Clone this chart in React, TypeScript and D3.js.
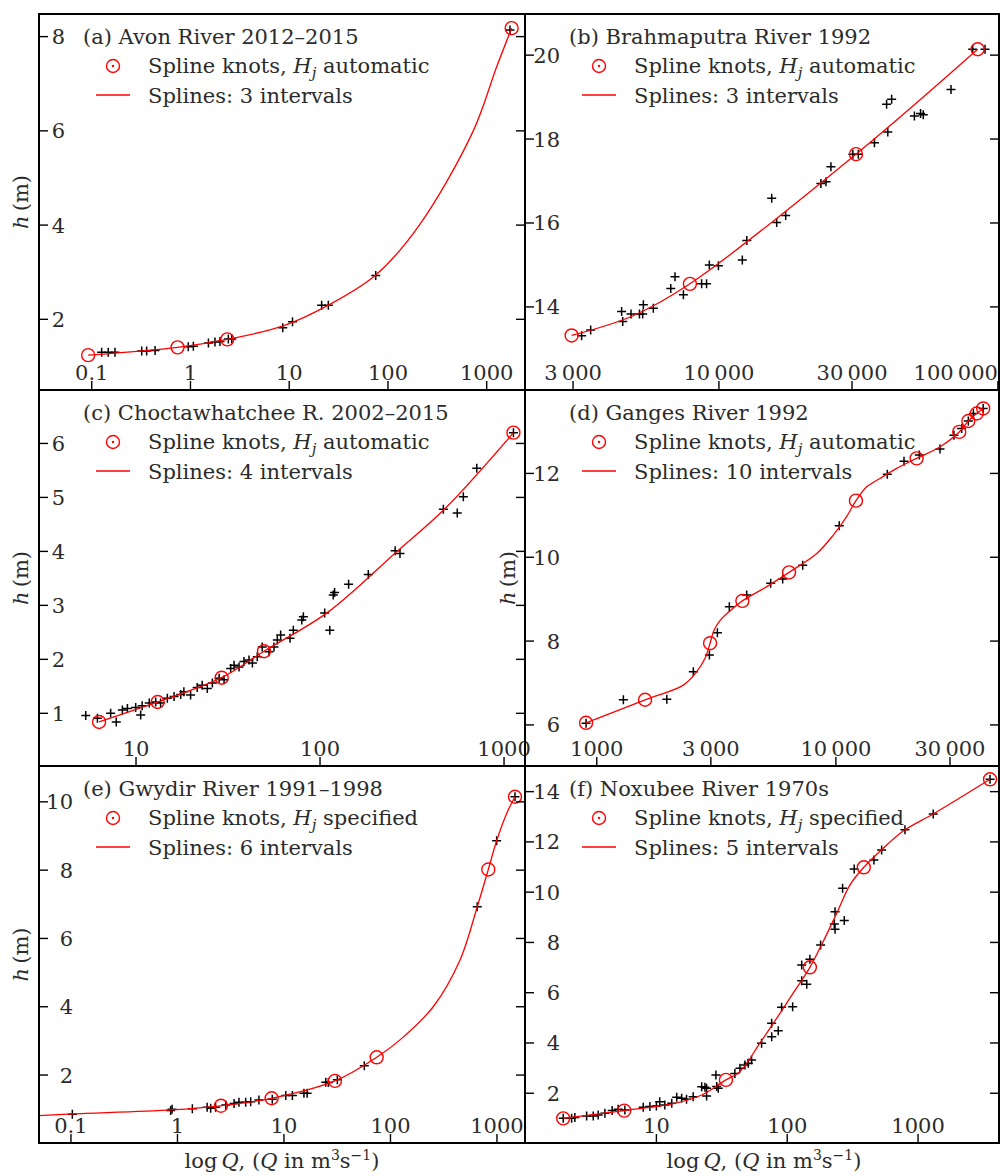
import React from "react";
import * as d3 from "d3";

// (a) Avon River 2012–2015
const avonQ = [0.126, 0.147, 0.172, 0.321, 0.36, 0.438, 0.95, 1.07, 1.52, 1.77, 1.99, 2.42, 2.62, 8.6, 10.8, 21.3, 24.9, 75.2, 1722];
const avonH = [1.3, 1.3, 1.3, 1.33, 1.33, 1.34, 1.42, 1.43, 1.5, 1.52, 1.53, 1.58, 1.58, 1.82, 1.95, 2.3, 2.3, 2.93, 8.14];
const avonKnotQ = [0.092, 0.74, 2.36, 1790];
const avonKnotH = [1.24, 1.405, 1.575, 8.18];
const avonFitQ = [0.092, 0.74, 2.36, 8.7, 24.9, 75.2, 208, 731, 1262, 1790];
const avonFitH = [1.24, 1.405, 1.575, 1.86, 2.3, 2.94, 4.0, 6.0, 7.36, 8.18];

// (b) Brahmaputra River 1992
const brahmaQ = [3220, 3470, 4480, 4520, 4840, 5190, 5360, 5330, 5820, 6720, 6960, 7460, 8670, 9030, 9240, 9960, 12130, 12590, 15460, 16110, 17350, 23200, 24200, 25200, 30200, 31600, 36100, 39900, 41600, 40300, 50200, 52800, 54000, 67900, 81200, 89900];
const brahmaH = [13.31, 13.45, 13.89, 13.65, 13.83, 13.83, 14.05, 13.83, 13.97, 14.44, 14.72, 14.29, 14.55, 14.55, 15.0, 14.98, 15.12, 15.58, 16.59, 16.01, 16.18, 16.94, 16.98, 17.34, 17.64, 17.64, 17.91, 18.83, 18.95, 18.17, 18.55, 18.61, 18.58, 19.18, 20.14, 20.14];
const brahmaKnotQ = [2965, 7870, 31000, 84600];
const brahmaKnotH = [13.32, 14.55, 17.64, 20.14];
const brahmaFitQ = [2965, 4930, 7870, 31000, 84600];
const brahmaFitH = [13.32, 13.79, 14.55, 17.64, 20.14];

// (c) Choctawhatchee R. 2002–2015
const choctQ = [5.33, 6.17, 7.28, 7.81, 8.43, 8.98, 9.96, 10.6, 10.8, 11.8, 12.8, 13.6, 14.8, 16.1, 17.5, 18.2, 19.8, 21.5, 22.9, 24.4, 26.0, 28.3, 30.1, 32.7, 34.1, 36.3, 38.6, 41.1, 42.9, 45.6, 48.5, 52.8, 56.2, 58.6, 61.1, 68.7, 71.6, 79.6, 81.2, 106, 113, 118, 120, 143, 183, 256, 272, 468, 557, 601, 711, 1125];
const choctH = [0.96, 0.91, 1.0, 0.84, 1.06, 1.09, 1.11, 0.97, 1.14, 1.19, 1.21, 1.19, 1.28, 1.31, 1.35, 1.4, 1.34, 1.48, 1.52, 1.46, 1.56, 1.65, 1.62, 1.83, 1.89, 1.86, 1.96, 1.99, 1.93, 2.05, 2.23, 2.14, 2.23, 2.36, 2.45, 2.39, 2.54, 2.73, 2.79, 2.86, 2.54, 3.19, 3.24, 3.39, 3.57, 4.01, 3.96, 4.78, 4.71, 5.01, 5.54, 6.2];
const choctKnotQ = [6.3, 13.1, 29.2, 49.6, 1125];
const choctKnotH = [0.84, 1.21, 1.66, 2.15, 6.2];
const choctFitQ = [6.3, 13.1, 29.2, 49.6, 110, 260, 480, 1125];
const choctFitH = [0.84, 1.21, 1.66, 2.15, 2.87, 3.99, 4.8, 6.2];

// (d) Ganges River 1992
const gangesQ = [902, 1292, 1963, 2534, 2958, 3194, 3584, 4237, 5337, 5990, 7266, 10330, 16410, 19270, 22330, 27250, 31170, 33590, 35800, 37580, 41300];
const gangesH = [6.04, 6.6, 6.61, 7.27, 7.67, 8.2, 8.82, 9.1, 9.38, 9.48, 9.81, 10.75, 11.98, 12.29, 12.44, 12.58, 12.91, 13.07, 13.25, 13.43, 13.55];
const gangesKnotQ = [902, 1592, 2977, 4064, 6370, 12130, 21760, 32800, 35800, 38800, 41300];
const gangesKnotH = [6.05, 6.6, 7.95, 8.96, 9.64, 11.35, 12.36, 12.99, 13.25, 13.43, 13.55];
const gangesFitQ = [902, 1592, 2302, 2618, 2837, 2977, 3093, 3275, 3605, 4064, 5140, 6370, 8318, 9752, 11090, 12130, 13460, 15290, 17950, 21760, 27220, 32800, 35800, 38800, 41300];
const gangesFitH = [6.05, 6.6, 6.95, 7.27, 7.59, 7.95, 8.26, 8.49, 8.72, 8.96, 9.3, 9.64, 10.09, 10.53, 10.97, 11.35, 11.68, 11.88, 12.12, 12.36, 12.63, 12.99, 13.25, 13.43, 13.55];

// (e) Gwydir River 1991–1998
const gwydirQ = [0.103, 0.863, 0.89, 1.38, 1.9, 2.05, 2.28, 2.84, 3.4, 3.78, 4.37, 4.87, 5.82, 7.77, 10.4, 12.0, 15.4, 16.5, 24.7, 26.1, 31.7, 56.8, 653, 993, 1476];
const gwydirH = [0.85, 0.96, 1.0, 1.01, 1.06, 1.03, 1.06, 1.12, 1.17, 1.2, 1.2, 1.22, 1.27, 1.29, 1.4, 1.4, 1.47, 1.47, 1.79, 1.78, 1.86, 2.27, 6.93, 8.86, 10.15];
const gwydirKnotQ = [2.56, 7.66, 30.1, 74.2, 829, 1476];
const gwydirKnotH = [1.1, 1.32, 1.83, 2.52, 8.02, 10.15];
const gwydirFitQ = [0.0501, 0.103, 0.87, 2.56, 7.66, 30.1, 74.2, 123, 252, 450, 653, 829, 993, 1233, 1476];
const gwydirFitH = [0.81, 0.86, 0.98, 1.1, 1.32, 1.83, 2.52, 3.03, 4.0, 5.37, 6.93, 8.02, 8.86, 9.66, 10.15];

// (f) Noxubee River 1970s
const noxubeeQ = [1.94, 2.25, 2.38, 2.93, 3.29, 3.59, 4.04, 4.59, 5.1, 5.74, 7.93, 8.92, 10.0, 10.6, 11.6, 13.1, 14.3, 15.6, 17.0, 19.1, 22.2, 23.5, 24.2, 24.2, 28.9, 28.5, 29.7, 39.8, 43.5, 47.5, 50.4, 53.4, 63.7, 76.1, 76, 85.4, 90.6, 110, 129, 141, 129, 149, 180, 232, 229, 273, 232, 265, 325, 460, 527, 794, 1306, 3550];
const noxubeeH = [1.0, 1.0, 1.03, 1.09, 1.09, 1.13, 1.2, 1.31, 1.36, 1.33, 1.44, 1.47, 1.49, 1.66, 1.53, 1.6, 1.84, 1.8, 1.76, 1.86, 2.26, 2.24, 1.89, 2.2, 2.27, 2.73, 2.2, 2.79, 2.99, 3.12, 3.19, 3.32, 3.99, 4.25, 4.78, 4.49, 5.42, 5.44, 6.48, 6.34, 7.1, 7.33, 7.9, 8.52, 8.73, 8.87, 9.22, 10.16, 10.92, 11.28, 11.68, 12.48, 13.11, 14.49];
const noxubeeKnotQ = [1.94, 5.68, 34.0, 149, 385, 3550];
const noxubeeKnotH = [1.0, 1.31, 2.53, 7.01, 10.99, 14.49];
const noxubeeFitQ = [1.94, 5.68, 13.8, 22.2, 34.0, 43.5, 61.8, 88, 111, 149, 188, 239, 302, 385, 542, 794, 1306, 3550];
const noxubeeFitH = [1.0, 1.31, 1.6, 1.93, 2.53, 2.86, 3.99, 5.18, 5.98, 7.01, 8.03, 9.16, 10.29, 10.99, 11.75, 12.48, 13.11, 14.49];

// tick values and labels
const TS = "\u2009";
const xTicksA = [0.1, 1, 10, 100, 1000];
const xLabelsA = ["0.1", "1", "10", "100", "1000"];
const xTicksB = [3000, 10000, 30000, 100000];
const xLabelsB = [`3${TS}000`, `10${TS}000`, `30${TS}000`, `100${TS}000`];
const xTicksC = [10, 100, 1000];
const xLabelsC = ["10", "100", "1000"];
const xTicksD = [1000, 3000, 10000, 30000];
const xLabelsD = ["1000", `3${TS}000`, `10${TS}000`, `30${TS}000`];
const xTicksE = [0.1, 1, 10, 100, 1000];
const xLabelsE = ["0.1", "1", "10", "100", "1000"];
const xTicksF = [10, 100, 1000];
const xLabelsF = ["10", "100", "1000"];
const yTicksA = [2, 4, 6, 8];
const yTicksB = [14, 16, 18, 20];
const yTicksC = [1, 2, 3, 4, 5, 6];
const yTicksD = [6, 8, 10, 12];
const yTicksE = [2, 4, 6, 8, 10];
const yTicksF = [2, 4, 6, 8, 10, 12, 14];

const RED = "#ff0000";
const INK = "#2b2b2b";
const FONT = "'DejaVu Serif', serif";
const FS = 21;

const panels = [
  { key: "a", box: [39, 14, 525, 390], xd: [0.02924, 2443], yd: [0.5, 8.48], q: avonQ, h: avonH, kq: avonKnotQ, kh: avonKnotH, fq: avonFitQ, fh: avonFitH, xt: xTicksA, xl: xLabelsA, yt: yTicksA, yr: 26, title: "(a) Avon River 2012–2015", hj: "automatic", sp: "Splines: 3 intervals", ylab: 28 },
  { key: "b", box: [525, 14, 999, 390], xd: [2018, 100900], yd: [12.02, 20.98], q: brahmaQ, h: brahmaH, kq: brahmaKnotQ, kh: brahmaKnotH, fq: brahmaFitQ, fh: brahmaFitH, xt: xTicksB, xl: xLabelsB, xa: ["middle", "middle", "middle", "end"], yt: yTicksB, yr: 35, title: "(b) Brahmaputra River 1992", hj: "automatic", sp: "Splines: 3 intervals" },
  { key: "c", box: [39, 390, 525, 766], xd: [2.97, 1300], yd: [0.024, 6.99], q: choctQ, h: choctH, kq: choctKnotQ, kh: choctKnotH, fq: choctFitQ, fh: choctFitH, xt: xTicksC, xl: xLabelsC, yt: yTicksC, yr: 26, title: "(c) Choctawhatchee R. 2002–2015", hj: "automatic", sp: "Splines: 4 intervals", ylab: 28 },
  { key: "d", box: [525, 390, 999, 766], xd: [501, 48100], yd: [5.02, 13.99], q: gangesQ, h: gangesH, kq: gangesKnotQ, kh: gangesKnotH, fq: gangesFitQ, fh: gangesFitH, xt: xTicksD, xl: xLabelsD, yt: yTicksD, yr: 35, title: "(d) Ganges River 1992", hj: "automatic", sp: "Splines: 10 intervals", ylab: 515 },
  { key: "e", box: [39, 766, 525, 1143], xd: [0.0501, 1833], yd: [0.01, 11.05], q: gwydirQ, h: gwydirH, kq: gwydirKnotQ, kh: gwydirKnotH, fq: gwydirFitQ, fh: gwydirFitH, xt: xTicksE, xl: xLabelsE, yt: yTicksE, yr: 34, title: "(e) Gwydir River 1991–1998", hj: "specified", sp: "Splines: 6 intervals", ylab: 28 },
  { key: "f", box: [525, 766, 999, 1143], xd: [0.99, 4157], yd: [0.02, 15.02], q: noxubeeQ, h: noxubeeH, kq: noxubeeKnotQ, kh: noxubeeKnotH, fq: noxubeeFitQ, fh: noxubeeFitH, xt: xTicksF, xl: xLabelsF, yt: yTicksF, yr: 35, title: "(f) Noxubee River 1970s", hj: "specified", sp: "Splines: 5 intervals" },
];

const cross = "M-4.5,0H4.5M0,-4.5V4.5";

function Panel({ p }: { p: any }) {
  const [x0, y0, x1, y1] = p.box;
  const x = d3.scaleLog().domain(p.xd).range([x0, x1]);
  const y = d3.scaleLinear().domain(p.yd).range([y1, y0]);
  const fit = d3
    .line<number>()
    .x((d) => x(d))
    .y((_, i) => y(p.fh[i]))
    .curve(d3.curveCatmullRom.alpha(0.5));
  const tl = 9;
  return (
    <g>
      <defs>
        <clipPath id={`clip-${p.key}`}>
          <rect x={x0} y={y0} width={x1 - x0} height={y1 - y0} />
        </clipPath>
      </defs>
      {/* observed gaugings */}
      <g stroke="#000" strokeWidth={1.5} fill="none">
        {p.q.map((qv: number, i: number) => (
          <path key={i} d={cross} transform={`translate(${x(qv)},${y(p.h[i])})`} />
        ))}
      </g>
      <path d={fit(p.fq) || ""} fill="none" stroke={RED} strokeWidth={1.3} clipPath={`url(#clip-${p.key})`} />
      <g stroke={RED} strokeWidth={1.4} fill="none">
        {p.kq.map((qv: number, i: number) => (
          <circle key={i} cx={x(qv)} cy={y(p.kh[i])} r={6.5} />
        ))}
      </g>
      {/* ticks */}
      <g stroke="#000" strokeWidth={1.4}>
        {p.yt.map((t: number) => (
          <g key={t}>
            <line x1={x0} x2={x0 + tl} y1={y(t)} y2={y(t)} />
            <line x1={x1} x2={x1 - tl} y1={y(t)} y2={y(t)} />
          </g>
        ))}
        {p.xt.map((t: number) => (
          <line key={t} x1={x(t)} x2={x(t)} y1={y1} y2={y1 - tl} />
        ))}
      </g>
      <g fontFamily={FONT} fontSize={FS} fill={INK}>
        {p.yt.map((t: number) => (
          <text key={t} x={x0 + p.yr} y={y(t) + 7.5} textAnchor="end">
            {t}
          </text>
        ))}
        {p.xt.map((t: number, i: number) => (
          <text key={t} x={x(t)} y={y1 - 10} textAnchor={p.xa ? p.xa[i] : "middle"}>
            {p.xl[i]}
          </text>
        ))}
        {/* legend */}
        <text x={x0 + 44} y={y0 + 30}>{p.title}</text>
        <circle cx={x0 + 74} cy={y0 + 52} r={6.5} fill="none" stroke={RED} strokeWidth={1.4} />
        <circle cx={x0 + 74} cy={y0 + 52} r={1.2} fill={RED} />
        <text x={x0 + 109} y={y0 + 59}>
          Spline knots, <tspan fontStyle="italic">H</tspan>
          <tspan fontStyle="italic" fontSize={15} dy={5}>j</tspan>
          <tspan dy={-5}> {p.hj}</tspan>
        </text>
        <line x1={x0 + 57} x2={x0 + 91} y1={y0 + 81} y2={y0 + 81} stroke={RED} strokeWidth={1.3} />
        <text x={x0 + 109} y={y0 + 89}>{p.sp}</text>
        {p.ylab !== undefined && (
          <text transform={`translate(${p.ylab},${(y0 + y1) / 2}) rotate(-90)`} textAnchor="middle">
            <tspan fontStyle="italic">h</tspan>{"\u2009(m)"}
          </text>
        )}
      </g>
      <rect x={x0} y={y0} width={x1 - x0} height={y1 - y0} fill="none" stroke="#000" strokeWidth={2} />
    </g>
  );
}

function XTitle({ cx }: { cx: number }) {
  return (
    <text x={cx} y={1168} textAnchor="middle" fontFamily={FONT} fontSize={FS} fill={INK}>
      log<tspan fontStyle="italic" dx={4}>Q</tspan>, (<tspan fontStyle="italic">Q</tspan> in m
      <tspan fontSize={14} dy={-8}>3</tspan>
      <tspan dy={8}>s</tspan>
      <tspan fontSize={14} dy={-8}>−1</tspan>
      <tspan dy={8}>)</tspan>
    </text>
  );
}

export default function App() {
  return (
    <svg width={1000} height={1176} style={{ position: "absolute", left: 0, top: 0, background: "#fff" }}>
      <rect width={1000} height={1176} fill="#fff" />
      {panels.map((p) => (
        <Panel key={p.key} p={p} />
      ))}
      <XTitle cx={282} />
      <XTitle cx={764} />
    </svg>
  );
}
